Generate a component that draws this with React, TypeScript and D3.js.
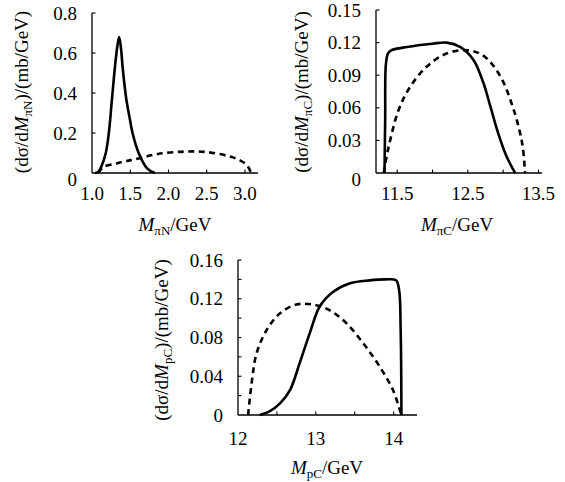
import { useMemo } from 'react'
import * as d3 from 'd3'

const FONT = "'Liberation Serif', 'Times New Roman', 'DejaVu Serif', serif"

// panel (a) pi N invariant mass
const piNSolidX = [1.04, 1.08, 1.12, 1.18, 1.22, 1.26, 1.3, 1.33, 1.355, 1.38, 1.4, 1.45, 1.49, 1.53, 1.61, 1.72, 1.82]
const piNSolidY = [0, 0.005, 0.03, 0.1, 0.2, 0.365, 0.53, 0.63, 0.68, 0.62, 0.53, 0.365, 0.28, 0.2, 0.1, 0.023, 0]
const piNDashX = [1.08, 1.15, 1.32, 1.45, 1.61, 1.86, 2.2, 2.49, 2.78, 2.9, 3.0, 3.05, 3.08]
const piNDashY = [0, 0.03, 0.048, 0.06, 0.073, 0.095, 0.107, 0.105, 0.085, 0.07, 0.048, 0.025, 0]
const piNXTicks = [1.5, 2.0, 2.5, 3.0]
const piNXLabels = ['1.0', '1.5', '2.0', '2.5', '3.0']
const piNYTicks = [0.2, 0.4, 0.6, 0.8]
const piNYLabels = ['0', '0.2', '0.4', '0.6', '0.8']

// panel (b) pi C invariant mass
const piCSolidX = [11.32, 11.33, 11.34, 11.37, 11.42, 11.64, 12.0, 12.2, 12.39, 12.58, 12.72, 12.82, 12.93, 13.05, 13.17]
const piCSolidY = [0, 0.05, 0.1, 0.11, 0.113, 0.116, 0.119, 0.12, 0.116, 0.104, 0.083, 0.061, 0.0365, 0.015, 0]
const piCDashX = [11.31, 11.35, 11.4, 11.52, 11.68, 11.92, 12.2, 12.49, 12.72, 12.96, 13.15, 13.27, 13.31]
const piCDashY = [0, 0.015, 0.03, 0.058, 0.079, 0.098, 0.11, 0.113, 0.108, 0.089, 0.058, 0.027, 0]
const piCXTicks = [11.5, 12.0, 12.5, 13.0, 13.5]
const piCXLabels = ['11.5', '12.5', '13.5']
const piCYTicks = [0.03, 0.06, 0.09, 0.12, 0.15]
const piCYLabels = ['0', '0.03', '0.06', '0.09', '0.12', '0.15']

// panel (c) p C invariant mass
const pCSolidX = [12.28, 12.41, 12.54, 12.67, 12.79, 12.92, 13.05, 13.22, 13.44, 13.69, 13.9, 14.03, 14.07, 14.09, 14.1]
const pCSolidY = [0, 0.004, 0.012, 0.026, 0.053, 0.084, 0.112, 0.127, 0.136, 0.139, 0.14, 0.139, 0.129, 0.088, 0]
const pCDashX = [12.13, 12.18, 12.24, 12.37, 12.54, 12.75, 12.97, 13.18, 13.39, 13.61, 13.82, 13.99, 14.08, 14.1]
const pCDashY = [0, 0.036, 0.064, 0.088, 0.105, 0.114, 0.114, 0.108, 0.095, 0.074, 0.05, 0.026, 0.005, 0]
const pCXTicks = [12.5, 13.0, 13.5, 14.0]
const pCXLabels = ['12', '13', '14']
const pCYTicks = [0.02, 0.04, 0.06, 0.08, 0.1, 0.12, 0.14, 0.16]
const pCYLabels = ['0', '0.04', '0.08', '0.12', '0.16']

const zip = (xs, ys) => xs.map((x, i) => [x, ys[i]])

const Panel = ({ xDomain, xRange, yDomain, yRange, xTicks, xLabels, yTicks, yLabels,
  solid, dashed, sub, yTitlePos, xTitlePos, labelGap, zeroShift }) => {
  const x = useMemo(() => d3.scaleLinear().domain(xDomain).range(xRange), [xDomain, xRange])
  const y = useMemo(() => d3.scaleLinear().domain(yDomain).range(yRange), [yDomain, yRange])

  const line = d3.line()
    .x((d) => x(d[0]))
    .y((d) => y(d[1]))
    .curve(d3.curveCatmullRom.alpha(0.5))

  const x0 = xRange[0]
  const y0 = yRange[0]

  return (
    <g>
      {/* axes */}
      <line x1={x0} x2={xRange[1]} y1={y0} y2={y0} stroke="#000" strokeWidth={1.3} />
      <line x1={x0} x2={x0} y1={y0} y2={yRange[1]} stroke="#000" strokeWidth={1.3} />
      {xTicks.map((t) => (
        <line key={t} x1={x(t)} x2={x(t)} y1={y0} y2={y0 - 3.5} stroke="#000" strokeWidth={1.1} />
      ))}
      {yTicks.map((t) => (
        <line key={t} x1={x0} x2={x0 + 3.5} y1={y(t)} y2={y(t)} stroke="#000" strokeWidth={1.1} />
      ))}
      {xLabels.map((l) => (
        <text key={l} x={x(+l)} y={y0 + labelGap} textAnchor="middle" fontSize={19}>{l}</text>
      ))}
      {yLabels.map((l) => (
        <text key={l} x={x0 - 15} y={y(+l) + (l === '0' ? zeroShift : 6.5)} textAnchor="end" fontSize={19}>{l}</text>
      ))}

      {/* curves */}
      <path d={line(solid)} fill="none" stroke="#000" strokeWidth={2.6} strokeLinejoin="round" />
      <path d={line(dashed)} fill="none" stroke="#000" strokeWidth={2.6} strokeDasharray="6,4.5" />

      {/* titles */}
      <text transform={`translate(${yTitlePos[0]},${yTitlePos[1]}) rotate(-90)`} textAnchor="middle" fontSize={19}>
        <tspan>(dσ/d</tspan>
        <tspan fontStyle="italic">M</tspan>
        <tspan fontSize={13} dy={4}>{sub}</tspan>
        <tspan dy={-4}>)/(mb/GeV)</tspan>
      </text>
      <text x={xTitlePos[0]} y={xTitlePos[1]} textAnchor="middle" fontSize={19}>
        <tspan fontStyle="italic">M</tspan>
        <tspan fontSize={13} dy={4}>{sub}</tspan>
        <tspan dy={-4}>/GeV</tspan>
      </text>
    </g>
  )
}

export default function App() {
  return (
    <svg width={565} height={482} style={{ position: 'absolute', left: 0, top: 0, background: '#fff', fontFamily: FONT }}>
      <Panel
        xDomain={[1.0, 3.17]} xRange={[92, 258]}
        yDomain={[0, 0.8]} yRange={[173, 13]}
        xTicks={piNXTicks} xLabels={piNXLabels}
        yTicks={piNYTicks} yLabels={piNYLabels}
        solid={zip(piNSolidX, piNSolidY)} dashed={zip(piNDashX, piNDashY)}
        sub="πN" yTitlePos={[28, 92]} xTitlePos={[175, 231]} labelGap={27} zeroShift={13}
      />
      <Panel
        xDomain={[11.2, 13.55]} xRange={[376, 542]}
        yDomain={[0, 0.15]} yRange={[173, 10]}
        xTicks={piCXTicks} xLabels={piCXLabels}
        yTicks={piCYTicks} yLabels={piCYLabels}
        solid={zip(piCSolidX, piCSolidY)} dashed={zip(piCDashX, piCDashY)}
        sub="πC" yTitlePos={[308, 92]} xTitlePos={[457, 231]} labelGap={27} zeroShift={13}
      />
      <Panel
        xDomain={[12, 14.3]} xRange={[238, 417]}
        yDomain={[0, 0.16]} yRange={[415, 260]}
        xTicks={pCXTicks} xLabels={pCXLabels}
        yTicks={pCYTicks} yLabels={pCYLabels}
        solid={zip(pCSolidX, pCSolidY)} dashed={zip(pCDashX, pCDashY)}
        sub="pC" yTitlePos={[168, 340]} xTitlePos={[327, 474]} labelGap={30} zeroShift={7}
      />
    </svg>
  )
}
